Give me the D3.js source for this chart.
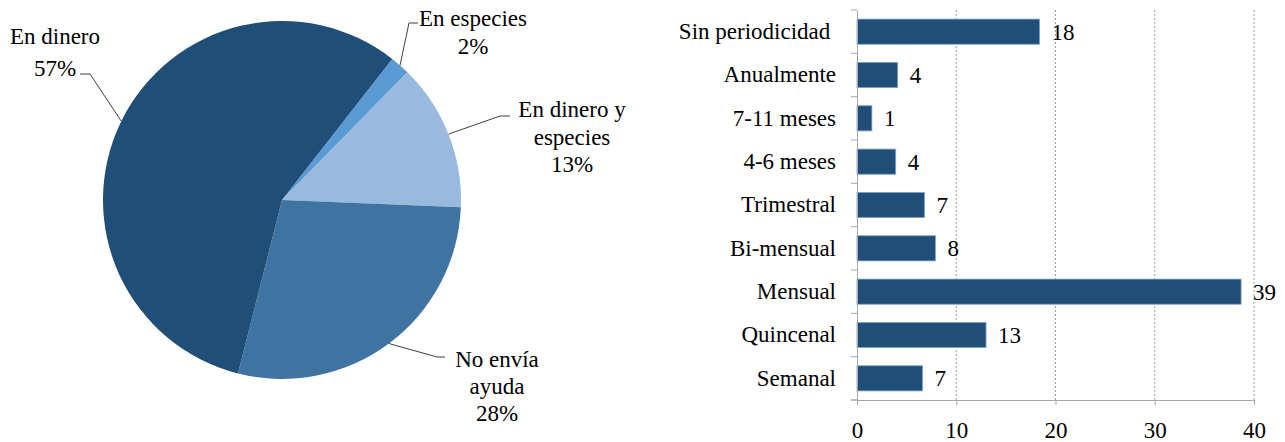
<!DOCTYPE html>
<html>
<head>
<meta charset="utf-8">
<script src="https://cdn.jsdelivr.net/npm/d3@7"></script>
<style>
  body { margin: 0; background: #fff; }
</style>
</head>
<body>
<div id="chart"></div>
<script>
"use strict";

const FONT = "Liberation Serif";

// pie data (in drawing order, clockwise)
const pieLabels = [["En especies"], ["En dinero y", "especies"], ["No envía", "ayuda"], ["En dinero"]];
const pieValues = [1.8, 13.3, 28.3, 56.6];
const pieColors = ["#5b9bd5", "#99b9df", "#3f74a2", "#1f4e79"];

// bar data (top to bottom)
const barCategories = ["Sin periodicidad\u00a0", "Anualmente", "7-11 meses", "4-6 meses", "Trimestral",
    "Bi-mensual", "Mensual", "Quincenal", "Semanal"];
const barValues = [18.4, 4.1, 1.5, 3.9, 6.8, 7.9, 38.7, 13.0, 6.6];
const barLabels = ["18", "4", "1", "4", "7", "8", "39", "13", "7"];
const xTicks = [0, 10, 20, 30, 40];

const msm = {
    width: 1285,
    height: 442,
    pieCx: 282,
    pieCy: 200,
    pieR: 179,
    barLeft: 857,
    barRight: 1254,
    barTop: 10,
    barBottom: 400
}

// where each pie label sits (text anchor point, first baseline) and where its leader bends
const pieLabelPos = [
    { x: 473, y: 26, step: 28, bend: [409, 23], start: [418, 23] },
    { x: 572, y: 117, step: 27.5, bend: [500, 116], start: [510, 116] },
    { x: 497, y: 367, step: 27, bend: [437, 357], start: [445, 357] },
    { x: 55, y: 44, step: 32, bend: [90, 74], start: [80, 74] }
];

let svg = d3.select("#chart")
    .append("svg")
    .attr("width", msm.width)
    .attr("height", msm.height);

drawPie();
drawBars();

function drawPie() {
    let pie = d3.pie()
        .sort(null)
        .startAngle(38 * Math.PI / 180)
        .endAngle(38 * Math.PI / 180 + 2 * Math.PI);
    let arcs = pie(pieValues);
    let arc = d3.arc().innerRadius(0).outerRadius(msm.pieR);

    let g = svg.append("g")
        .attr("transform", "translate(" + msm.pieCx + "," + msm.pieCy + ")");

    g.selectAll(".slice")
        .data(arcs)
        .enter()
        .append("path")
        .attr("class", "slice")
        .attr("d", arc)
        .attr("fill", (d, i) => pieColors[i]);

    // leader lines: from label, bend, to slice edge at mid angle
    arcs.forEach((d, i) => {
        let a = (d.startAngle + d.endAngle) / 2;
        let ex = msm.pieCx + msm.pieR * Math.sin(a);
        let ey = msm.pieCy - msm.pieR * Math.cos(a);
        let p = pieLabelPos[i];
        svg.append("polyline")
            .attr("points", [p.start, p.bend, [ex, ey]].map(q => q.join(",")).join(" "))
            .attr("fill", "none")
            .attr("stroke", "#404040")
            .attr("stroke-width", 1);

        let lines = pieLabels[i].concat([Math.round(pieValues[i]) + "%"]);
        let t = svg.append("text")
            .attr("text-anchor", "middle")
            .attr("font-family", FONT)
            .attr("font-size", 23);
        lines.forEach((s, j) => {
            t.append("tspan")
                .attr("x", p.x)
                .attr("y", p.y + j * p.step)
                .text(s);
        });
    });
}

function drawBars() {
    let xScale = d3.scaleLinear()
        .domain([0, 40])
        .range([msm.barLeft, msm.barRight]);

    let yScale = d3.scaleBand()
        .domain(barCategories)
        .range([msm.barTop, msm.barBottom])
        .paddingInner(0.42)
        .paddingOuter(0.21);

    // dashed gridlines
    svg.selectAll(".grid")
        .data(xTicks.slice(1))
        .enter()
        .append("line")
        .attr("class", "grid")
        .attr("x1", d => xScale(d))
        .attr("x2", d => xScale(d))
        .attr("y1", msm.barTop)
        .attr("y2", msm.barBottom)
        .attr("stroke", "#9a9a9a")
        .attr("stroke-width", 1)
        .attr("stroke-dasharray", "2,2");

    // bars
    svg.selectAll(".bar")
        .data(barValues)
        .enter()
        .append("rect")
        .attr("class", "bar")
        .attr("x", xScale(0))
        .attr("y", (d, i) => yScale(barCategories[i]))
        .attr("width", d => xScale(d) - xScale(0))
        .attr("height", yScale.bandwidth())
        .attr("fill", "#1f4e79")
        .attr("stroke", "#7fa3c8")
        .attr("stroke-width", 0.8);

    // value labels
    svg.selectAll(".val")
        .data(barValues)
        .enter()
        .append("text")
        .attr("class", "val")
        .attr("x", d => xScale(d) + 12)
        .attr("y", (d, i) => yScale(barCategories[i]) + yScale.bandwidth() / 2 + 8)
        .attr("font-family", FONT)
        .attr("font-size", 23)
        .text((d, i) => barLabels[i]);

    // left axis (category) with ticks between bands
    let yAxis = d3.axisLeft(yScale).tickSize(0).tickPadding(21);
    let gy = svg.append("g")
        .attr("transform", "translate(" + msm.barLeft + ",0)")
        .call(yAxis)
        .attr("font-family", FONT)
        .attr("font-size", 23);
    gy.select(".domain").attr("stroke", "#a6a6a6");
    gy.selectAll("text").attr("fill", "#000");
    let step = yScale.step();
    d3.range(barCategories.length + 1).forEach(i => {
        svg.append("line")
            .attr("x1", msm.barLeft - 6)
            .attr("x2", msm.barLeft)
            .attr("y1", msm.barTop + i * step)
            .attr("y2", msm.barTop + i * step)
            .attr("stroke", "#a6a6a6");
    });

    // bottom axis
    let xAxis = d3.axisBottom(xScale).tickValues(xTicks).tickSize(5).tickPadding(17).tickSizeOuter(0);
    let gx = svg.append("g")
        .attr("transform", "translate(0," + msm.barBottom + ")")
        .call(xAxis)
        .attr("font-family", FONT)
        .attr("font-size", 23);
    gx.select(".domain").attr("stroke", "#a6a6a6");
    gx.selectAll(".tick line").attr("stroke", "#a6a6a6");
    gx.selectAll("text").attr("fill", "#000");
    gx.append("line")
        .attr("x1", msm.barLeft - 6)
        .attr("x2", msm.barLeft)
        .attr("stroke", "#a6a6a6");
}
</script>
</body>
</html>
